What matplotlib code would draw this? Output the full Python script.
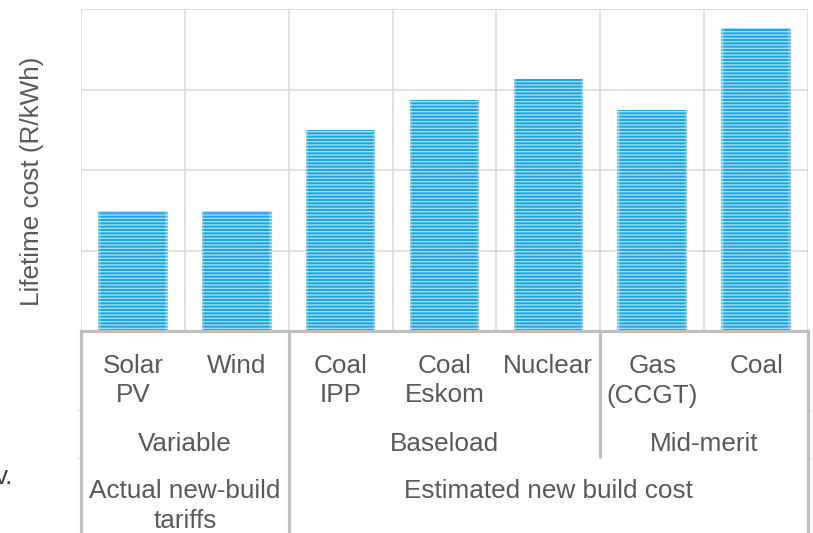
import matplotlib
matplotlib.use("Agg")
import matplotlib.pyplot as plt
from matplotlib.transforms import blended_transform_factory

plt.rcParams['font.family'] = ['Liberation Sans', 'DejaVu Sans']
plt.rcParams['hatch.linewidth'] = 1.0

# categories, grouped in three levels
techs = [["Solar", "PV"], ["Wind"], ["Coal", "IPP"], ["Coal", "Eskom"],
         ["Nuclear"], ["Gas", "(CCGT)"], ["Coal"]]
cost = [0.745, 0.745, 1.248, 1.435, 1.565, 1.373, 1.882]
groups = ["Variable", "Baseload", "Mid-merit"]
group_span = [(0, 1), (2, 4), (5, 6)]
kinds = [["Actual new-build", "tariffs"], ["Estimated new build cost"]]
kind_span = [(0, 1), (2, 6)]

W, H = 813, 533
txt_col = '#595959'
grid_col = '#D9D9D9'
sep_col = '#BFBFBF'
fs = 18.8
bw = 0.67

fig = plt.figure(figsize=(W / 100, H / 100), dpi=100)
ax = fig.add_axes([81 / W, 1 - 331 / H, (808 - 81) / W, (331 - 9) / H])

x = list(range(len(cost)))
ax.bar(x, cost, width=bw, color='#1AA7E0', edgecolor='#A6DBF3',
       linewidth=0, hatch='-----', zorder=3)
# soft lighter rim on the bar sides
for off, a in [(0.0, 0.35), (0.012, 0.18)]:
    for side in (-1, 1):
        ax.bar([i + side * (bw / 2 - off - 0.006) for i in x], cost,
               width=0.012, color='white', alpha=a, linewidth=0, zorder=3.5)

ax.set_xlim(-0.5, len(cost) - 0.5)
ax.set_ylim(0, 2.0)
ax.set_yticks([0, 0.5, 1.0, 1.5, 2.0])
ax.set_xticks([i + 0.5 for i in range(-1, len(cost))])
ax.grid(True, color=grid_col, lw=1.1, zorder=0)
ax.tick_params(length=0, labelbottom=False, labelleft=False)
for s in ['top', 'right', 'left']:
    ax.spines[s].set_visible(False)
ax.spines['bottom'].set_color(sep_col)
ax.spines['bottom'].set_linewidth(2.3)
ax.spines['bottom'].set_zorder(4)

fig.text(32 / W, 1 - 181 / H, "Lifetime cost (R/kWh)", rotation=90,
         ha='center', va='center', fontsize=fs, color=txt_col)

tr = blended_transform_factory(ax.transData, fig.transFigure)

def fy(py):
    return 1 - py / H

def put_lines(xc, lines, base, step=29.5):
    for k, s in enumerate(lines):
        ax.text(xc, fy(base + k * step), s, transform=tr, ha='center',
                va='baseline', fontsize=fs, color=txt_col, clip_on=False)

for i, lines in enumerate(techs):
    put_lines(i, lines, 373)
for g, (a, b) in zip(groups, group_span):
    put_lines((a + b) / 2, [g], 451)
for lines, (a, b) in zip(kinds, kind_span):
    put_lines((a + b) / 2, lines, 498)

# separators of the category table
for xs, y_end in [(-0.5, 533), (1.5, 533), (4.5, 458), (6.5, 533)]:
    ax.plot([xs, xs], [fy(331), fy(y_end)], transform=tr, color=sep_col,
            lw=2.3, clip_on=False, solid_capstyle='butt', zorder=4)
for xs, dx in [(-0.5, -1), (6.5, 1)]:
    for py in (410, 458):
        ax.plot([xs, xs + dx * 0.03], [fy(py), fy(py)], transform=tr,
                color='#E6E6E6', lw=1.0, clip_on=False)

fig.text(13 / W, fy(484), "v.", ha='right', va='baseline', fontsize=fs,
         color='#404040')

fig.savefig("out.png", dpi=100)
